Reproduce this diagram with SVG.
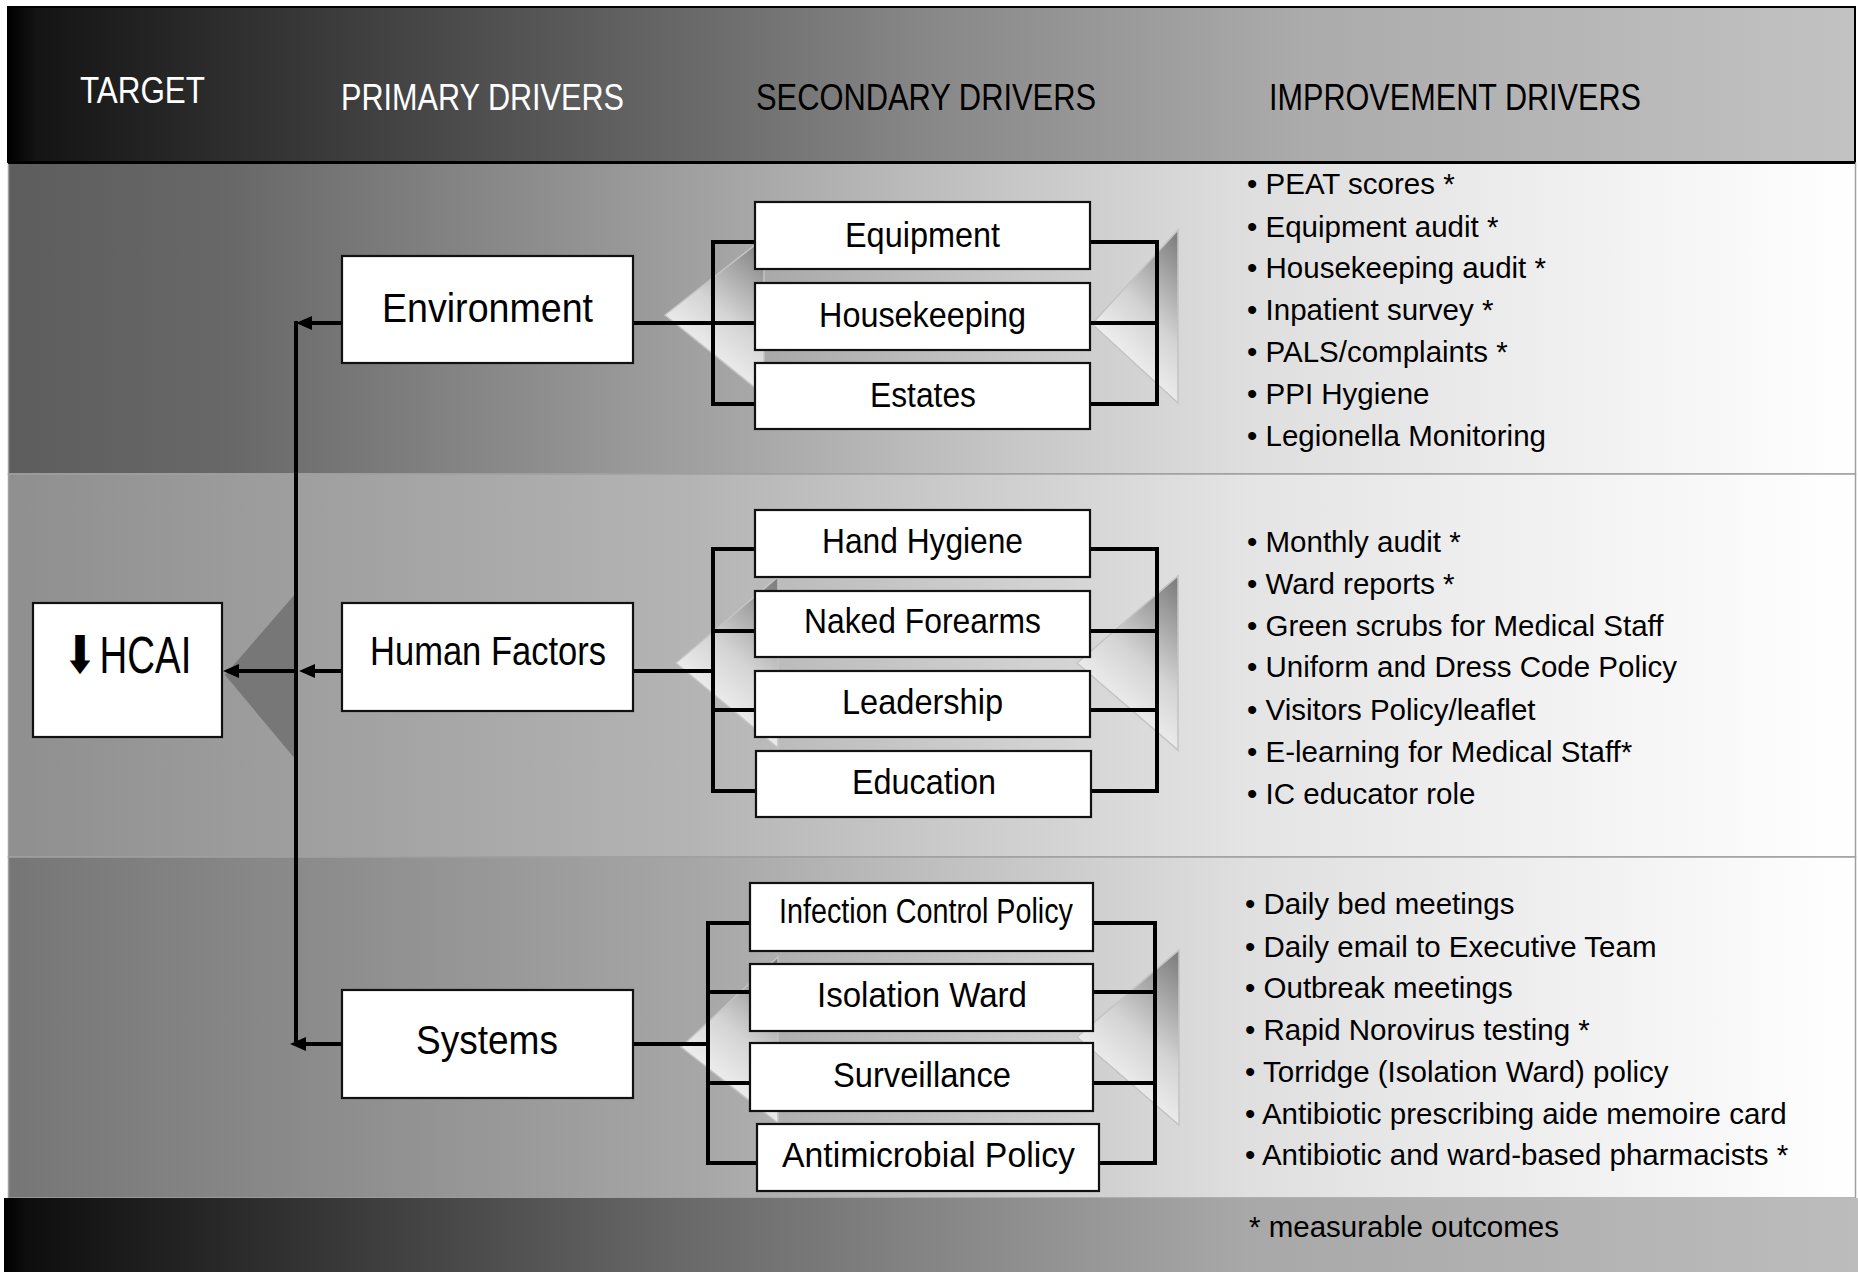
<svg xmlns="http://www.w3.org/2000/svg" width="1858" height="1272" viewBox="0 0 1858 1272">
<defs>
<linearGradient id="gHead" x1="0" y1="0" x2="1" y2="0">
<stop offset="0" stop-color="#000"/><stop offset="0.015" stop-color="#141414"/><stop offset="0.12" stop-color="#2e2e2e"/><stop offset="0.5" stop-color="#888"/><stop offset="0.7" stop-color="#ababab"/><stop offset="1" stop-color="#c2c2c2"/>
</linearGradient>
<linearGradient id="gB1" x1="0" y1="0" x2="1" y2="0">
<stop offset="0" stop-color="#5d5d5d"/><stop offset="0.12" stop-color="#686868"/><stop offset="0.37" stop-color="#a0a0a0"/><stop offset="0.54" stop-color="#c6c6c6"/><stop offset="0.67" stop-color="#dedede"/><stop offset="1" stop-color="#fff"/>
</linearGradient>
<linearGradient id="gB2" x1="0" y1="0" x2="1" y2="0">
<stop offset="0" stop-color="#8f8f8f"/><stop offset="0.37" stop-color="#b4b4b4"/><stop offset="0.67" stop-color="#e4e4e4"/><stop offset="1" stop-color="#fff"/>
</linearGradient>
<linearGradient id="gB3" x1="0" y1="0" x2="1" y2="0">
<stop offset="0" stop-color="#767676"/><stop offset="0.37" stop-color="#a6a6a6"/><stop offset="0.67" stop-color="#dfdfdf"/><stop offset="1" stop-color="#fff"/>
</linearGradient>
<linearGradient id="gFoot" x1="0" y1="0" x2="1" y2="0">
<stop offset="0" stop-color="#000"/><stop offset="0.012" stop-color="#0e0e0e"/><stop offset="0.16" stop-color="#333"/><stop offset="0.37" stop-color="#6a6a6a"/><stop offset="0.67" stop-color="#a8a8a8"/><stop offset="1" stop-color="#bcbcbc"/>
</linearGradient>
<linearGradient id="gTri" x1="0.9" y1="0" x2="0.4" y2="1">
<stop offset="0" stop-color="#808080"/><stop offset="0.5" stop-color="#d4d4d4"/><stop offset="1" stop-color="#ffffff"/>
</linearGradient>
<marker id="ah" viewBox="0 0 16 14" refX="8" refY="7" markerWidth="16" markerHeight="14" markerUnits="userSpaceOnUse" orient="auto">
<path d="M0,0 L16,7 L0,14 z" fill="#000"/>
</marker>
<style>
.box{fill:#fff;stroke:#111;stroke-width:2.2}
.tri{fill:url(#gTri);stroke:#c4c4c4;stroke-width:1.5}
.con{fill:none;stroke:#000;stroke-width:4}
.arr{fill:none;stroke:#000;stroke-width:4;marker-end:url(#ah)}
.hd{font-family:"Liberation Sans",Arial,sans-serif;font-size:37px}
.p{font-family:"Liberation Sans",Arial,sans-serif;font-size:41px;fill:#000;text-anchor:middle}
.s{font-family:"Liberation Sans",Arial,sans-serif;font-size:35px;fill:#000;text-anchor:middle}
.b{font-family:"Liberation Sans",Arial,sans-serif;font-size:29.5px;fill:#000}
</style>
</defs>
<rect x="0" y="0" width="1858" height="1272" fill="#fff"/>
<g id="background">
<rect x="8" y="7" width="1847" height="155" fill="url(#gHead)" stroke="#000" stroke-width="2"/>
<rect x="8.5" y="163" width="1847" height="311" fill="url(#gB1)" stroke="#a0a0a0" stroke-width="1.5"/>
<rect x="8.5" y="474" width="1847" height="383" fill="url(#gB2)" stroke="#a0a0a0" stroke-width="1.5"/>
<rect x="8.5" y="857" width="1847" height="341" fill="url(#gB3)" stroke="#a0a0a0" stroke-width="1.5"/>
<rect x="4" y="1198" width="1854" height="74" fill="url(#gFoot)"/>
<line x1="8" y1="162.5" x2="1855" y2="162.5" stroke="#000" stroke-width="3"/>
<polygon points="225,675 296,593 296,760" fill="#777"/>
<polygon class="tri" points="665,315 764,238 764,395"/>
<polygon class="tri" points="1092,324 1178,230 1178,403"/>
<polygon class="tri" points="676,663 778,577 778,748"/>
<polygon class="tri" points="1077,663 1178,576 1178,750"/>
<polygon class="tri" points="681,1047 778,957 778,1123"/>
<polygon class="tri" points="1077,1037 1179,950 1179,1125"/>
</g>
<g id="headers">
<text class="hd" x="80" y="103" fill="#fff" textLength="125" lengthAdjust="spacingAndGlyphs">TARGET</text>
<text class="hd" x="341" y="110" fill="#fff" textLength="283" lengthAdjust="spacingAndGlyphs">PRIMARY DRIVERS</text>
<text class="hd" x="756" y="110" fill="#000" textLength="340" lengthAdjust="spacingAndGlyphs">SECONDARY DRIVERS</text>
<text class="hd" x="1269" y="110" fill="#000" textLength="372" lengthAdjust="spacingAndGlyphs">IMPROVEMENT DRIVERS</text>
</g>
<g id="connectors">
<path class="con" d="M296,321 V1046"/>
<path class="arr" d="M342,323 H304"/>
<path class="arr" d="M342,671 H307"/>
<path class="arr" d="M342,1044 H298"/>
<path class="arr" d="M296,671 H231"/>
<path class="con" d="M633,323 H713"/>
<path class="con" d="M633,671 H713"/>
<path class="con" d="M633,1044 H708"/>
<path class="con" d="M755,242 H713 V404 H755 M713,323 H755"/>
<path class="con" d="M1090,242 H1157 V404 H1090 M1090,323 H1157"/>
<path class="con" d="M755,549 H713 V791 H756 M713,631 H755 M713,710 H755"/>
<path class="con" d="M1090,549 H1157 V791 H1091 M1090,631 H1157 M1090,710 H1157"/>
<path class="con" d="M750,923 H708 V1163 H757 M708,992 H750 M708,1083 H750"/>
<path class="con" d="M1093,923 H1155 V1163 H1099 M1093,992 H1155 M1093,1083 H1155"/>
</g>
<g id="node-hcai">
<rect class="box" x="33" y="603" width="189" height="134"/>
<text transform="translate(64,673) scale(0.74,1)" font-family="Liberation Sans,Arial,sans-serif" font-size="52" fill="#000"><tspan x="0" font-family="DejaVu Sans" font-weight="bold">⬇</tspan><tspan x="48">HCAI</tspan></text>
</g>
<g id="node-environment">
<rect class="box" x="342" y="256" width="291" height="107"/>
<text class="p" x="487.5" y="322" textLength="211" lengthAdjust="spacingAndGlyphs">Environment</text>
</g>
<g id="node-human-factors">
<rect class="box" x="342" y="603" width="291" height="108"/>
<text class="p" x="488" y="665" textLength="236" lengthAdjust="spacingAndGlyphs">Human Factors</text>
</g>
<g id="node-systems">
<rect class="box" x="342" y="990" width="291" height="108"/>
<text class="p" x="487" y="1054" textLength="142" lengthAdjust="spacingAndGlyphs">Systems</text>
</g>
<g id="node-equipment"><rect class="box" x="755" y="202" width="335" height="67"/><text class="s" x="922.5" y="247" textLength="155" lengthAdjust="spacingAndGlyphs">Equipment</text></g>
<g id="node-housekeeping"><rect class="box" x="755" y="283" width="335" height="67"/><text class="s" x="922.5" y="327" textLength="207" lengthAdjust="spacingAndGlyphs">Housekeeping</text></g>
<g id="node-estates"><rect class="box" x="755" y="363" width="335" height="66"/><text class="s" x="923" y="407" textLength="106" lengthAdjust="spacingAndGlyphs">Estates</text></g>
<g id="node-hand-hygiene"><rect class="box" x="755" y="510" width="335" height="67"/><text class="s" x="922.5" y="553" textLength="201" lengthAdjust="spacingAndGlyphs">Hand Hygiene</text></g>
<g id="node-naked-forearms"><rect class="box" x="755" y="591" width="335" height="66"/><text class="s" x="922.5" y="633" textLength="237" lengthAdjust="spacingAndGlyphs">Naked Forearms</text></g>
<g id="node-leadership"><rect class="box" x="755" y="671" width="335" height="66"/><text class="s" x="922.5" y="714" textLength="161" lengthAdjust="spacingAndGlyphs">Leadership</text></g>
<g id="node-education"><rect class="box" x="756" y="751" width="335" height="66"/><text class="s" x="924" y="794" textLength="144" lengthAdjust="spacingAndGlyphs">Education</text></g>
<g id="node-infection-control-policy"><rect class="box" x="750" y="883" width="343" height="68"/><text class="s" x="926" y="923" font-size="32" textLength="294" lengthAdjust="spacingAndGlyphs">Infection Control Policy</text></g>
<g id="node-isolation-ward"><rect class="box" x="750" y="964" width="343" height="67"/><text class="s" x="922" y="1007" textLength="210" lengthAdjust="spacingAndGlyphs">Isolation Ward</text></g>
<g id="node-surveillance"><rect class="box" x="750" y="1043" width="343" height="68"/><text class="s" x="922" y="1087" textLength="178" lengthAdjust="spacingAndGlyphs">Surveillance</text></g>
<g id="node-antimicrobial-policy"><rect class="box" x="757" y="1124" width="342" height="67"/><text class="s" x="928.5" y="1167" textLength="293" lengthAdjust="spacingAndGlyphs">Antimicrobial Policy</text></g>
<g id="improvement-environment">
<text class="b" x="1247" y="194">• PEAT scores *</text>
<text class="b" x="1247" y="237">• Equipment audit *</text>
<text class="b" x="1247" y="278">• Housekeeping audit *</text>
<text class="b" x="1247" y="320">• Inpatient survey *</text>
<text class="b" x="1247" y="362">• PALS/complaints *</text>
<text class="b" x="1247" y="404">• PPI Hygiene</text>
<text class="b" x="1247" y="446">• Legionella Monitoring</text>
</g>
<g id="improvement-human-factors">
<text class="b" x="1247" y="552">• Monthly audit *</text>
<text class="b" x="1247" y="594">• Ward reports *</text>
<text class="b" x="1247" y="636">• Green scrubs for Medical Staff</text>
<text class="b" x="1247" y="677">• Uniform and Dress Code Policy</text>
<text class="b" x="1247" y="720">• Visitors Policy/leaflet</text>
<text class="b" x="1247" y="762">• E-learning for Medical Staff*</text>
<text class="b" x="1247" y="804">• IC educator role</text>
</g>
<g id="improvement-systems">
<text class="b" x="1245" y="914">• Daily bed meetings</text>
<text class="b" x="1245" y="957">• Daily email to Executive Team</text>
<text class="b" x="1245" y="998">• Outbreak meetings</text>
<text class="b" x="1245" y="1040">• Rapid Norovirus testing *</text>
<text class="b" x="1245" y="1082">• Torridge (Isolation Ward) policy</text>
<text class="b" x="1245" y="1124">• Antibiotic prescribing aide memoire card</text>
<text class="b" x="1245" y="1165">• Antibiotic and ward-based pharmacists *</text>
</g>
<g id="footer-note">
<text class="b" x="1249" y="1237">* measurable outcomes</text>
</g>
</svg>
